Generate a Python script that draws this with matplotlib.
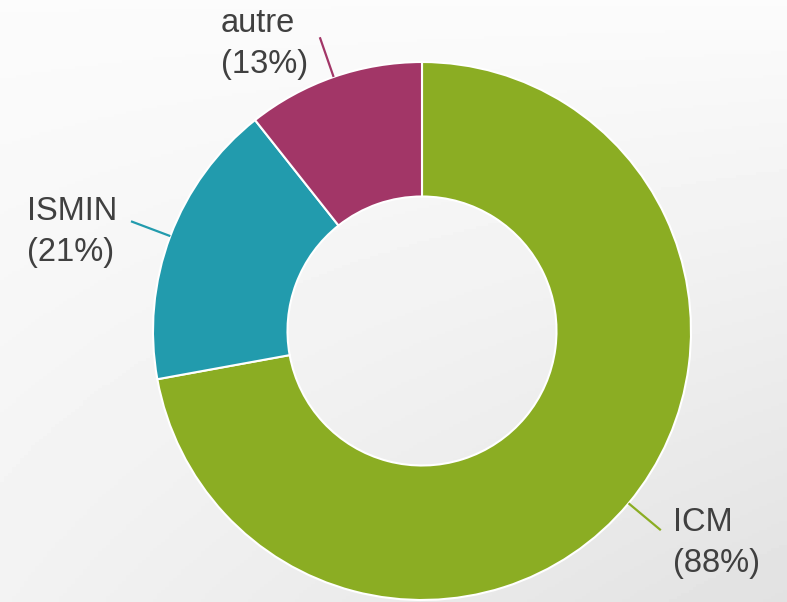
import numpy as np
import matplotlib
matplotlib.use('Agg')
import matplotlib.pyplot as plt

# donnees
categories = ['ICM', 'ISMIN', 'autre']
values = [88, 21, 13]
colors = ['#8bad23', '#229bad', '#a23667']

# position des textes (pixels, origine en haut a gauche)
label_pos = {'ICM': (673, 531), 'ISMIN': (27, 220), 'autre': (221, 32)}

W, H = 787, 602
cx, cy = 422, 602 - 331
R = 269
plt.rcParams['font.family'] = ['Liberation Sans', 'DejaVu Sans']

fig = plt.figure(figsize=(W / 100, H / 100), dpi=100)
ax = fig.add_axes([0, 0, 1, 1])

# fond en degrade
yy, xx = np.mgrid[0:1:200j, 0:1:200j]
bg = 0.985 - 0.035 * yy - 0.065 * xx * yy
ax.imshow(bg, cmap='gray', vmin=0, vmax=1, extent=[0, W, 0, H],
          origin='upper', zorder=0, aspect='auto')

wedges, _ = ax.pie(values, colors=colors, startangle=90, counterclock=False,
                   center=(cx, cy), radius=R, frame=True,
                   wedgeprops=dict(width=R * 0.5, edgecolor='white', linewidth=1.5))

total = sum(values)
for w, name, v, c in zip(wedges, categories, values, colors):
    ang = np.deg2rad((w.theta1 + w.theta2) / 2)
    x0, y0 = cx + R * np.cos(ang), cy + R * np.sin(ang)
    x1, y1 = cx + (R + 42) * np.cos(ang), cy + (R + 42) * np.sin(ang)
    ax.plot([x0, x1], [y0, y1], color=c, lw=1.6, solid_capstyle='butt', zorder=3)
    tx, ty = label_pos[name]
    ax.text(tx, H - ty, name, fontsize=23.5, color='#404040', ha='left', va='baseline')
    ax.text(tx, H - ty - 41, '(%d%%)' % v, fontsize=23.5, color='#404040',
            ha='left', va='baseline')

ax.set_xlim(0, W)
ax.set_ylim(0, H)
ax.set_aspect('equal')
ax.axis('off')

plt.savefig('out.png', dpi=100)
